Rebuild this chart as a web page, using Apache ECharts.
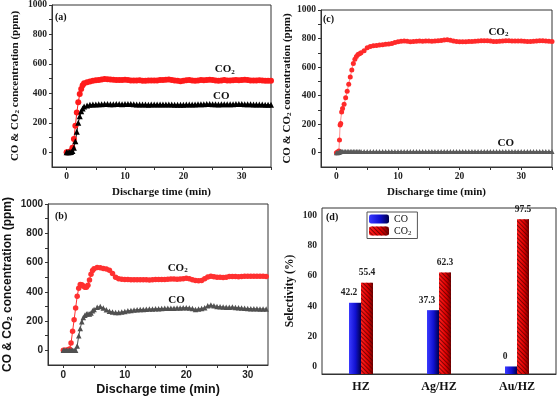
<!DOCTYPE html>
<html>
<head>
<meta charset="utf-8">
<script src="https://cdn.jsdelivr.net/npm/echarts@6/dist/echarts.min.js"></script>
<style>
html, body { margin: 0; padding: 0; background: #fff; }
#main { width: 559px; height: 397px; }
</style>
</head>
<body>
<div id="main"></div>
<script>
// panel (a)
var time_a = [0, 0.25, 0.5, 0.75, 1, 1.25, 1.5, 1.75, 2, 2.25, 2.5, 2.75, 3,
  3.5, 4, 4.5, 5, 5.5, 6, 6.5, 7, 7.5, 8, 8.5, 9, 9.5, 10, 10.5, 11, 11.5, 12, 12.5, 13, 13.5, 14, 14.5,
  15, 15.5, 16, 16.5, 17, 17.5, 18, 18.5, 19, 19.5, 20, 20.5, 21, 21.5, 22, 22.5, 23, 23.5, 24, 24.5,
  25, 25.5, 26, 26.5, 27, 27.5, 28, 28.5, 29, 29.5, 30, 30.5, 31, 31.5, 32, 32.5, 33, 33.5, 34, 34.5, 35];
var co2_a = [0, 0, 2, 8, 30, 90, 180, 270, 340, 395, 430, 455, 468,
  476, 480, 485, 489, 491, 494, 497, 496, 494, 492, 491, 490, 491, 492, 490, 488, 487, 488, 489, 486, 485, 487, 488,
  487, 488, 490, 491, 493, 494, 490, 487, 485, 483, 486, 489, 490, 488, 486, 488, 490, 489, 491, 493,
  490, 487, 486, 488, 490, 488, 487, 489, 490, 489, 491, 492, 490, 488, 487, 488, 489, 487, 486, 486, 485];
var co_a = [0, 0, 0, 2, 8, 30, 75, 140, 200, 245, 278, 298, 310,
  318, 322, 324, 325, 326, 326, 327, 327, 326, 326, 327, 327, 326, 327, 328, 327, 326, 325, 325, 324, 324, 323, 324,
  324, 325, 325, 324, 324, 325, 324, 323, 322, 322, 323, 324, 324, 325, 325, 326, 326, 326, 327, 327,
  326, 326, 325, 326, 326, 326, 326, 326, 327, 327, 327, 326, 326, 326, 325, 325, 324, 324, 323, 323, 322];

// panel (c)
var time_c = [0, 0.2, 0.4, 0.5, 0.6, 0.7, 0.85, 1, 1.25, 1.5, 1.75, 2, 2.25, 2.5, 2.75, 3, 3.25, 3.5, 3.75, 4,
  4.5, 5, 5.5, 6, 6.5, 7, 7.5, 8, 8.5, 9, 9.5, 10, 10.5, 11, 11.5, 12, 12.5, 13, 13.5, 14, 14.5,
  15, 15.5, 16, 16.5, 17, 17.5, 18, 18.5, 19, 19.5, 20, 20.5, 21, 21.5, 22, 22.5, 23, 23.5, 24, 24.5,
  25, 25.5, 26, 26.5, 27, 27.5, 28, 28.5, 29, 29.5, 30, 30.5, 31, 31.5, 32, 32.5, 33, 33.5, 34, 34.5, 35];
var co2_c = [0, 5, 12, 90, 195, 205, 285, 310, 340, 385, 430, 480, 530, 580, 625, 655, 675, 688, 693, 700,
  715, 735, 745, 750, 752, 754, 756, 760, 762, 766, 772, 778, 781, 782, 781, 778, 780, 781, 782, 781, 782,
  782, 781, 782, 784, 787, 790, 792, 788, 783, 780, 778, 777, 778, 779, 780, 781, 782, 784, 785, 784,
  782, 780, 779, 781, 783, 784, 784, 783, 782, 783, 782, 781, 780, 780, 781, 783, 785, 784, 782, 781, 780];
var co_c = [0, 0, 2, 5, 7, 8, 8, 9, 9, 8, 8, 9, 9, 8, 8, 9, 9, 8, 8, 9,
  9, 8, 8, 9, 9, 9, 8, 8, 9, 9, 8, 8, 9, 9, 9, 8, 8, 9, 9, 8, 8,
  9, 9, 9, 8, 8, 9, 9, 8, 8, 9, 9, 9, 8, 8, 9, 9, 8, 8, 9, 9,
  9, 8, 8, 9, 9, 8, 8, 9, 9, 9, 8, 8, 9, 9, 8, 8, 9, 9, 8, 8, 9];

// panel (b)
var time_b = [0, 0.25, 0.5, 0.75, 1, 1.25, 1.5, 1.75, 2, 2.25, 2.5, 2.75, 3, 3.25, 3.5, 3.75, 4, 4.25, 4.5, 4.75, 5,
  5.5, 6, 6.5, 7, 7.5, 8, 8.5, 9, 9.5, 10, 10.5, 11, 11.5, 12, 12.5, 13, 13.5, 14, 14.5,
  15, 15.5, 16, 16.5, 17, 17.5, 18, 18.5, 19, 19.5, 20, 20.5, 21, 21.5, 22, 22.5, 23, 23.5, 24, 24.5,
  25, 25.5, 26, 26.5, 27, 27.5, 28, 28.5, 29, 29.5, 30, 30.5, 31, 31.5, 32, 32.5, 33];
var co2_b = [0, 0, 0, 2, 10, 50, 130, 210, 290, 370, 425, 450, 448, 440, 432, 432, 445, 480, 520, 545, 558,
  566, 565, 560, 556, 548, 525, 500, 490, 486, 485, 484, 483, 483, 482, 482, 483, 482, 481, 483,
  484, 484, 485, 484, 486, 487, 487, 486, 487, 490, 492, 489, 482, 478, 476, 478, 490, 502, 506, 503,
  500, 499, 497, 500, 504, 505, 504, 503, 505, 506, 507, 506, 506, 507, 506, 506, 505];
var co_b = [0, 0, 0, 0, 0, 0, 0, 0, 0, 30, 100, 150, 195, 225, 240, 248, 250, 248, 255, 270, 280,
  295, 300, 290, 278, 268, 262, 258, 258, 262, 266, 270, 273, 276, 278, 279, 280, 281, 282, 283,
  284, 285, 286, 287, 287, 288, 288, 289, 290, 291, 292, 290, 286, 280, 282, 286, 292, 305, 310, 305,
  300, 298, 296, 295, 294, 296, 293, 291, 289, 287, 286, 285, 284, 284, 283, 283, 282];

// panel (d)
var catalysts = ['HZ', 'Ag/HZ', 'Au/HZ'];
var sel_co = [42.2, 37.3, 0];
var sel_co2 = [55.4, 62.3, 97.5];

var x_ticks = [0, 5, 10, 15, 20, 25, 30, 35];
var x_labels = [0, 10, 20, 30];
var y_ticks = [0, 100, 200, 300, 400, 500, 600, 700, 800, 900, 1000];
var y_labels = [0, 200, 400, 600, 800, 1000];
var sel_ticks = [0, 10, 20, 30, 40, 50, 60, 70, 80, 90, 100];
var sel_labels = [0, 20, 40, 60, 80, 100];

var SERIF = "'Liberation Serif', 'Times New Roman', serif";
var SANS = "'Liberation Sans', Arial, sans-serif";

function pairs(t, v) {
  var out = [];
  for (var i = 0; i < t.length; i++) out.push([t[i], v[i]]);
  return out;
}

function plain(v) { return String(v); }

function subRich(font, size) {
  return { s: { fontFamily: font, fontWeight: 'bold', fontSize: size, padding: [5, 0, 0, 0], color: '#111' } };
}

function xValueAxis(gi, max, font, lsize, nsize, gap) {
  return {
    type: 'value', gridIndex: gi, min: -2.5, max: max,
    name: 'Discharge time (min)', nameLocation: 'middle', nameGap: gap,
    nameTextStyle: { fontFamily: font, fontWeight: 'bold', fontSize: nsize, color: '#111' },
    axisLine: { onZero: false, lineStyle: { color: '#333', width: 1 } },
    axisTick: { customValues: x_ticks, length: 3, lineStyle: { color: '#333' } },
    axisLabel: { customValues: x_labels, formatter: plain, margin: 5, fontFamily: font, fontWeight: 'bold', fontSize: lsize, color: '#222' },
    splitLine: { show: false }
  };
}

function yValueAxis(gi, font, lsize, nsize, gap) {
  return {
    type: 'value', gridIndex: gi, min: -100, max: 1000,
    name: 'CO & CO{s|2} concentration (ppm)', nameLocation: 'middle', nameGap: gap,
    nameTextStyle: { fontFamily: font, fontWeight: 'bold', fontSize: nsize, color: '#111', rich: subRich(font, nsize * 0.65) },
    axisLine: { onZero: false, lineStyle: { color: '#333', width: 1 } },
    axisTick: { customValues: y_ticks, length: 3, lineStyle: { color: '#333' } },
    axisLabel: { customValues: y_labels, formatter: plain, margin: 5, fontFamily: font, fontWeight: 'bold', fontSize: lsize, color: '#222' },
    splitLine: { show: false }
  };
}

function lineSeries(name, gi, t, v, color, lineColor, symbol, size) {
  return {
    type: 'line', name: name, xAxisIndex: gi, yAxisIndex: gi,
    data: pairs(t, v), symbol: symbol, symbolSize: size,
    lineStyle: { width: 1, color: lineColor },
    itemStyle: { color: color },
    emphasis: { disabled: true }
  };
}

var frame = { show: true, borderColor: '#333', borderWidth: 1, backgroundColor: 'transparent' };

var chart = echarts.init(document.getElementById('main'));
chart.setOption({
  animation: false,
  backgroundColor: '#fff',
  grid: [
    Object.assign({ left: 52, top: 5, width: 219, height: 162 }, frame),
    Object.assign({ left: 321, top: 10, width: 231, height: 157 }, frame),
    Object.assign({ left: 48, top: 204, width: 220, height: 161 }, frame),
    Object.assign({ left: 322, top: 208, width: 234, height: 166 }, frame)
  ],
  legend: {
    data: ['CO', 'CO2'], orient: 'vertical', left: 367, top: 212,
    itemWidth: 20, itemHeight: 9, itemGap: 2, padding: [2, 6, 2, 2],
    borderColor: '#555', borderWidth: 1,
    formatter: function (n) { return n === 'CO2' ? 'CO{s|2}' : n; },
    textStyle: { fontFamily: SERIF, fontSize: 10, color: '#111', rich: { s: { fontFamily: SERIF, fontSize: 7, padding: [4, 0, 0, 0] } } }
  },
  xAxis: [
    xValueAxis(0, 35, SERIF, 9.5, 11, 20),
    xValueAxis(1, 35, SERIF, 9.5, 11, 20),
    xValueAxis(2, 33.3, SANS, 10, 12.5, 18),
    {
      type: 'category', gridIndex: 3, data: catalysts,
      axisLine: { onZero: false, lineStyle: { color: '#333' } },
      axisTick: { show: false },
      axisLabel: { margin: 7, fontFamily: SERIF, fontWeight: 'bold', fontSize: 12, color: '#111' }
    }
  ],
  yAxis: [
    yValueAxis(0, SERIF, 9.5, 11, 31),
    yValueAxis(1, SERIF, 9.5, 11, 27),
    yValueAxis(2, SANS, 10, 12, 34),
    {
      type: 'value', gridIndex: 3, min: -5, max: 105, startValue: -5,
      name: 'Selectivity (%)', nameLocation: 'middle', nameGap: 26,
      nameTextStyle: { fontFamily: SERIF, fontWeight: 'bold', fontSize: 11.5, color: '#111' },
      axisLine: { onZero: false, lineStyle: { color: '#333' } },
      axisTick: { customValues: sel_ticks, length: 3, lineStyle: { color: '#333' } },
      axisLabel: { customValues: sel_labels, formatter: plain, margin: 5, fontFamily: SERIF, fontWeight: 'bold', fontSize: 9.5, color: '#222' },
      splitLine: { show: false }
    }
  ],
  series: [
    lineSeries('a-CO2', 0, time_a, co2_a, '#ff1a1a', '#ff1a1a', 'circle', 6),
    lineSeries('a-CO', 0, time_a, co_a, '#000', '#000', 'triangle', 6),
    lineSeries('c-CO2', 1, time_c, co2_c, '#ff2a2a', '#ff9090', 'circle', 5),
    lineSeries('c-CO', 1, time_c, co_c, '#5a5a5a', '#5a5a5a', 'triangle', 5),
    lineSeries('b-CO2', 2, time_b, co2_b, '#ff3030', '#ff3030', 'circle', 5.5),
    lineSeries('b-CO', 2, time_b, co_b, '#505050', '#505050', 'triangle', 5.5),
    {
      type: 'bar', name: 'CO', xAxisIndex: 3, yAxisIndex: 3, data: sel_co,
      barWidth: 12, barGap: '0%',
      itemStyle: { color: new echarts.graphic.LinearGradient(0, 0, 1, 0, [
        { offset: 0, color: '#3a3aff' }, { offset: 0.55, color: '#1010d0' }, { offset: 1, color: '#00004a' }]) },
      label: { show: true, position: 'top', offset: [-6, 0], fontFamily: SERIF, fontWeight: 'bold', fontSize: 9.5, color: '#222' }
    },
    {
      type: 'bar', name: 'CO2', xAxisIndex: 3, yAxisIndex: 3, data: sel_co2,
      barWidth: 12, barGap: '0%',
      itemStyle: {
        color: new echarts.graphic.LinearGradient(0, 0, 1, 0, [
          { offset: 0, color: '#ff2020' }, { offset: 0.6, color: '#e00000' }, { offset: 1, color: '#700000' }]),
        decal: { symbol: 'rect', symbolSize: 1, color: 'rgba(90,0,0,0.75)', dashArrayX: [1, 0], dashArrayY: [1, 2], rotation: Math.PI / 4 }
      },
      label: { show: true, position: 'top', fontFamily: SERIF, fontWeight: 'bold', fontSize: 9.5, color: '#222' }
    }
  ]
});

// curve annotations, placed in data coordinates of each panel
var notes = [
  { grid: 0, at: [27.1, 562], text: 'CO{s|2}' },
  { grid: 0, at: [26.5, 380], text: 'CO' },
  { grid: 1, at: [26.3, 846], text: 'CO{s|2}' },
  { grid: 1, at: [27.5, 65], text: 'CO' },
  { grid: 2, at: [18.6, 565], text: 'CO{s|2}' },
  { grid: 2, at: [18.4, 346], text: 'CO' }
];
var panels = [
  { text: '(a)', left: 55, top: 12 },
  { text: '(c)', left: 323, top: 14 },
  { text: '(b)', left: 55, top: 211 },
  { text: '(d)', left: 326, top: 212 }
];

var graphics = [];
notes.forEach(function (n) {
  var p = chart.convertToPixel({ xAxisIndex: n.grid, yAxisIndex: n.grid }, n.at);
  graphics.push({
    type: 'text', x: p[0], y: p[1],
    style: {
      text: n.text, align: 'center', verticalAlign: 'middle',
      font: 'bold 11px ' + SERIF, fill: '#111',
      rich: { s: { font: 'bold 7px ' + SERIF, padding: [5, 0, 0, 0], fill: '#111' } }
    }
  });
});
panels.forEach(function (p) {
  graphics.push({
    type: 'text', left: p.left, top: p.top,
    style: { text: p.text, font: 'bold 10px ' + SERIF, fill: '#111' }
  });
});
chart.setOption({ graphic: graphics });
</script>
</body>
</html>
